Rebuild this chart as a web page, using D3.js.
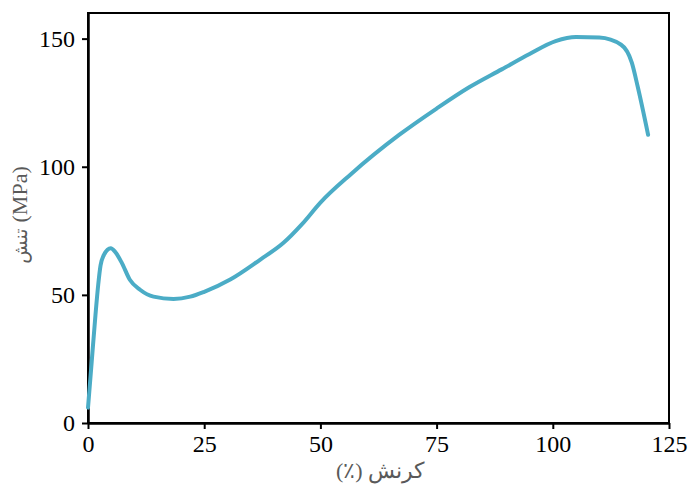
<!DOCTYPE html>
<html>
<head>
<meta charset="utf-8">
<script src="https://cdn.jsdelivr.net/npm/d3@7"></script>
<style>
  body { margin: 0; background: #fff; }
  #chart text { font-family: "Liberation Serif", "Times New Roman", serif; }
</style>
</head>
<body>
<div id="chart"></div>
<script>
// Valores: deformación (%) y tensión (MPa)
const strain = [0, 0.8, 1.6, 2.2, 2.7, 3.4, 4.2, 4.9, 5.8, 7.3, 9.0, 11.2, 14.1, 18.4, 22, 25, 30.6, 37, 42, 46, 50, 56.5, 67, 75, 82, 89, 95, 100.6, 105, 110, 114.7, 117, 118.3, 120.5];
const stress = [6, 24, 42, 54, 61.5, 65.5, 67.6, 68.2, 66.9, 62.4, 55.9, 52, 49.3, 48.4, 49.3, 51.2, 56, 63.7, 70.2, 77.5, 86, 97, 112.5, 122.7, 131, 138, 144, 149, 150.6, 150.4, 147.6, 140.6, 131, 112.5];
const xTicks = [0, 25, 50, 75, 100, 125];
const yTicks = [0, 50, 100, 150];

const data = strain.map((s, i) => ({ x: s, y: stress[i] }));

const W = 690, H = 484;
const margin = { top: 13, right: 21, bottom: 61, left: 88 };
const width = W - margin.left - margin.right;
const height = H - margin.top - margin.bottom;

const svg = d3.select('#chart').append('svg')
  .attr('width', W).attr('height', H);
const g = svg.append('g')
  .attr('transform', `translate(${margin.left},${margin.top})`);

const x = d3.scaleLinear().domain([0, 125]).range([0, width]);
const y = d3.scaleLinear().domain([0, 160]).range([height, 0]);

// marco del área de trazado
g.append('rect')
  .attr('width', width).attr('height', height)
  .attr('fill', 'none').attr('stroke', '#000').attr('stroke-width', 2);

// ejes
const xAxis = g.append('g')
  .attr('transform', `translate(0,${height})`)
  .call(d3.axisBottom(x).tickValues(xTicks).tickSize(6).tickSizeOuter(0).tickPadding(6));
const yAxis = g.append('g')
  .call(d3.axisLeft(y).tickValues(yTicks).tickSize(6).tickSizeOuter(0).tickPadding(7));

[xAxis, yAxis].forEach(a => {
  a.attr('font-size', 24).attr('font-family', '"Liberation Serif", serif');
  a.select('.domain').attr('stroke', '#000').attr('stroke-width', 2.5);
  a.selectAll('.tick line').attr('stroke', '#000').attr('stroke-width', 2);
  a.selectAll('.tick text').attr('fill', '#000');
});

// curva
const line = d3.line()
  .x(d => x(d.x))
  .y(d => y(d.y))
  .curve(d3.curveMonotoneX);

g.append('path')
  .datum(data)
  .attr('d', line)
  .attr('fill', 'none')
  .attr('stroke', '#4BACC6')
  .attr('stroke-width', 4)
  .attr('stroke-linecap', 'round')
  .attr('stroke-linejoin', 'round');

// títulos de ejes
svg.append('text')
  .attr('x', 380).attr('y', 478)
  .attr('text-anchor', 'middle')
  .attr('direction', 'rtl')
  .attr('font-size', 22)
  .attr('fill', '#595959')
  .text('کرنش (٪)');

const yTitle = svg.append('text')
  .attr('transform', 'translate(27,215) rotate(-90)')
  .attr('text-anchor', 'middle')
  .attr('font-size', 22)
  .attr('fill', '#595959');
yTitle.append('tspan').style('font-family', '"DejaVu Sans", sans-serif').attr('font-size', 19).text('تنش ');
yTitle.append('tspan').style('font-family', '"Liberation Serif", serif').text('(MPa)');
</script>
</body>
</html>
